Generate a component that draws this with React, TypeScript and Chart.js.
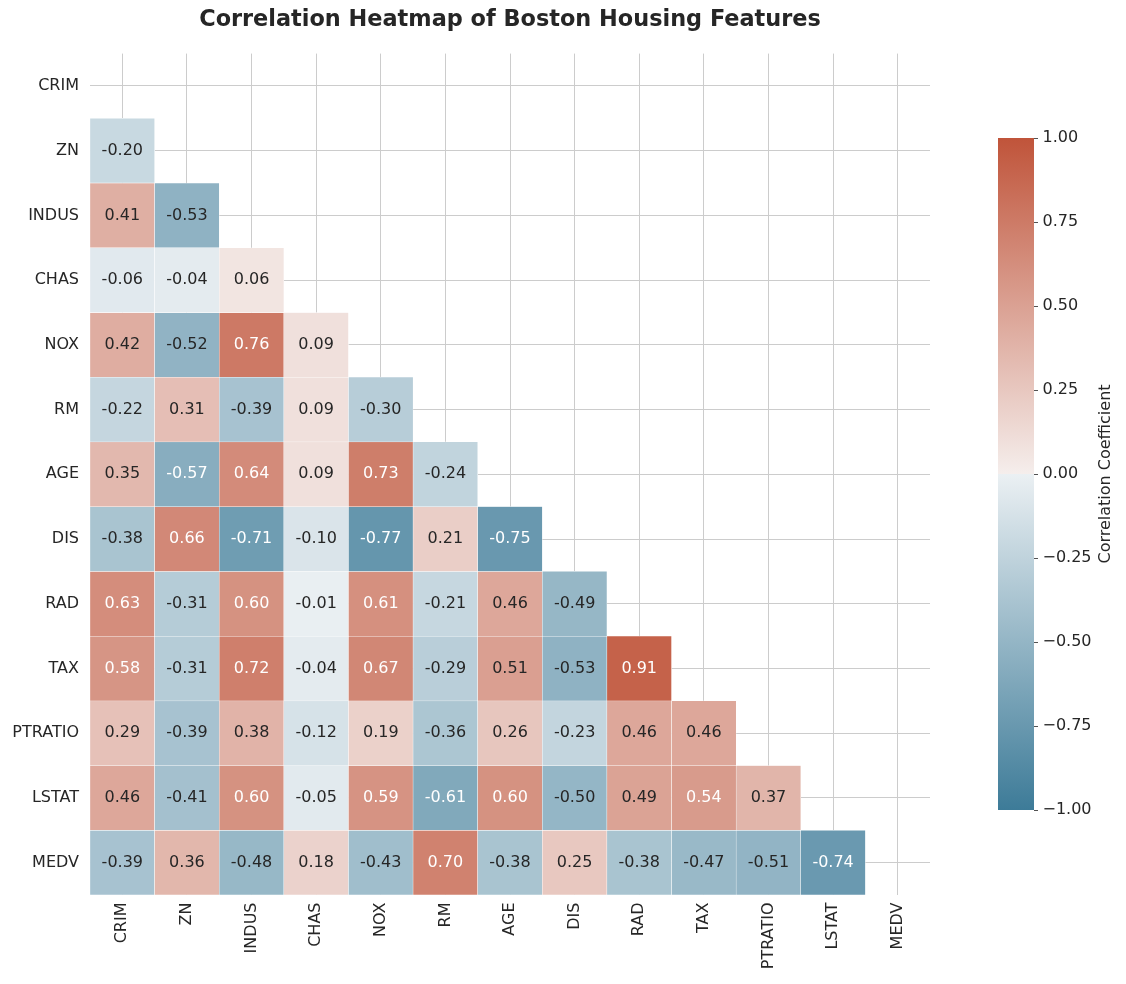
import React, { useEffect, useRef } from "react";
import { Chart, registerables } from "chart.js";

Chart.register(...registerables);

// ---------- data ----------
const features = ["CRIM", "ZN", "INDUS", "CHAS", "NOX", "RM", "AGE", "DIS", "RAD", "TAX", "PTRATIO", "LSTAT", "MEDV"];

const corrCRIM: number[] = [];
const corrZN = [-0.20];
const corrINDUS = [0.41, -0.53];
const corrCHAS = [-0.06, -0.04, 0.06];
const corrNOX = [0.42, -0.52, 0.76, 0.09];
const corrRM = [-0.22, 0.31, -0.39, 0.09, -0.30];
const corrAGE = [0.35, -0.57, 0.64, 0.09, 0.73, -0.24];
const corrDIS = [-0.38, 0.66, -0.71, -0.10, -0.77, 0.21, -0.75];
const corrRAD = [0.63, -0.31, 0.60, -0.01, 0.61, -0.21, 0.46, -0.49];
const corrTAX = [0.58, -0.31, 0.72, -0.04, 0.67, -0.29, 0.51, -0.53, 0.91];
const corrPTRATIO = [0.29, -0.39, 0.38, -0.12, 0.19, -0.36, 0.26, -0.23, 0.46, 0.46];
const corrLSTAT = [0.46, -0.41, 0.60, -0.05, 0.59, -0.61, 0.60, -0.50, 0.49, 0.54, 0.37];
const corrMEDV = [-0.39, 0.36, -0.48, 0.18, -0.43, 0.70, -0.38, 0.25, -0.38, -0.47, -0.51, -0.74];

const lowerRows = [corrCRIM, corrZN, corrINDUS, corrCHAS, corrNOX, corrRM, corrAGE, corrDIS, corrRAD, corrTAX, corrPTRATIO, corrLSTAT, corrMEDV];

const colorbarTicks = [1.0, 0.75, 0.5, 0.25, 0.0, -0.25, -0.5, -0.75, -1.0];

const TITLE = "Correlation Heatmap of Boston Housing Features";
const CB_LABEL = "Correlation Coefficient";

// ---------- style ----------
const FONT = '"DejaVu Sans", "Liberation Sans", sans-serif';
const TEXT_DARK = "#262626";
const LOW = [61, 123, 152];
const LOW_LIGHT = [235, 240, 243];
const MID = [242, 242, 242];
const HIGH_LIGHT = [245, 238, 236];
const HIGH = [192, 84, 58];

function mix(a: number[], b: number[], t: number) {
  return a.map((v, i) => v + (b[i] - v) * t);
}
function rgbStr(c: number[]) {
  return `rgb(${Math.round(c[0])},${Math.round(c[1])},${Math.round(c[2])})`;
}
function cmapRGB(v: number) {
  if (v < 0) return mix(LOW_LIGHT, LOW, Math.min(1, -v));
  if (v > 0) return mix(HIGH_LIGHT, HIGH, Math.min(1, v));
  return MID;
}
function lin(c: number) {
  const s = c / 255;
  return s <= 0.03928 ? s / 12.92 : Math.pow((s + 0.055) / 1.055, 2.4);
}
function textColor(v: number) {
  const c = cmapRGB(v);
  const lum = 0.2126 * lin(c[0]) + 0.7152 * lin(c[1]) + 0.0722 * lin(c[2]);
  return lum > 0.408 ? TEXT_DARK : "#ffffff";
}

const annotPlugin = {
  id: "annot",
  afterDatasetsDraw(chart: any) {
    const ctx = chart.ctx;
    ctx.save();
    ctx.font = `16px ${FONT}`;
    ctx.textAlign = "center";
    ctx.textBaseline = "middle";
    chart.data.datasets.forEach((ds: any, di: number) => {
      const meta = chart.getDatasetMeta(di);
      const vals = lowerRows[di];
      meta.data.forEach((el: any, i: number) => {
        if (i >= vals.length) return;
        const v = vals[i];
        const p = el.getProps(["x", "y", "base"], true);
        ctx.fillStyle = textColor(v);
        ctx.fillText(v.toFixed(2), p.x, (p.y + p.base) / 2);
      });
    });
    ctx.restore();
  },
};

const cbLabelPlugin = {
  id: "cbLabel",
  afterDraw(chart: any) {
    const ctx = chart.ctx;
    const area = chart.chartArea;
    ctx.save();
    ctx.font = `16px ${FONT}`;
    ctx.fillStyle = TEXT_DARK;
    ctx.textAlign = "center";
    ctx.textBaseline = "middle";
    ctx.translate(146, (area.top + area.bottom) / 2);
    ctx.rotate(-Math.PI / 2);
    ctx.fillText(CB_LABEL, 0, 0);
    ctx.restore();
  },
};

export default function App() {
  const mainRef = useRef<HTMLCanvasElement>(null);
  const cbRef = useRef<HTMLCanvasElement>(null);

  useEffect(() => {
    const datasets = lowerRows.map((vals, r) => ({
      label: features[r],
      data: features.map((_, c) => (c < vals.length ? [r - 0.5, r + 0.5] : null)),
      backgroundColor: features.map((_, c) => (c < vals.length ? rgbStr(cmapRGB(vals[c])) : "rgba(0,0,0,0)")),
      borderColor: "#ffffff",
      borderWidth: 0.5,
      borderSkipped: false,
      barPercentage: 1,
      categoryPercentage: 1,
      grouped: false,
    }));

    const main = new Chart(mainRef.current as HTMLCanvasElement, {
      type: "bar",
      data: { labels: features, datasets: datasets as any },
      options: {
        responsive: false,
        animation: false,
        events: [],
        devicePixelRatio: 1,
        layout: { padding: { left: 0, right: 90, top: 0, bottom: 0 } },
        plugins: {
          legend: { display: false },
          tooltip: { enabled: false },
          title: {
            display: true,
            fullSize: false,
            text: TITLE,
            color: TEXT_DARK,
            font: { family: FONT, size: 22.4, weight: "bold" },
            padding: { top: 6.5, bottom: 20.2 },
          },
        },
        scales: {
          x: {
            type: "category",
            offset: true,
            grid: { offset: false, color: "#cccccc", lineWidth: 1, drawTicks: false },
            border: { display: false },
            ticks: {
              color: TEXT_DARK,
              font: { family: FONT, size: 16 },
              maxRotation: 90,
              minRotation: 90,
              autoSkip: false,
              padding: 7.5,
            },
            afterFit: (s: any) => {
              s.height = 89;
            },
          },
          y: {
            type: "linear",
            reverse: true,
            min: -0.5,
            max: 12.5,
            grid: { color: "#cccccc", lineWidth: 1, drawTicks: false },
            border: { display: false },
            afterBuildTicks: (s: any) => {
              s.ticks = features.map((_, i) => ({ value: i }));
            },
            ticks: {
              color: TEXT_DARK,
              font: { family: FONT, size: 16 },
              autoSkip: false,
              padding: 11,
              callback: (v: any) => features[Math.round(Number(v))] ?? "",
            },
            afterFit: (s: any) => {
              s.width = 90;
            },
          },
        },
      },
      plugins: [annotPlugin],
    });

    const cb = new Chart(cbRef.current as HTMLCanvasElement, {
      type: "bar",
      data: {
        labels: ["cb"],
        datasets: [
          {
            data: [[-1, 1]] as any,
            backgroundColor: (ctx: any) => {
              const area = ctx.chart.chartArea;
              if (!area) return rgbStr(MID);
              const g = ctx.chart.ctx.createLinearGradient(0, area.top, 0, area.bottom);
              g.addColorStop(0, rgbStr(HIGH));
              g.addColorStop(0.4999, rgbStr(HIGH_LIGHT));
              g.addColorStop(0.5, rgbStr(MID));
              g.addColorStop(0.5001, rgbStr(LOW_LIGHT));
              g.addColorStop(1, rgbStr(LOW));
              return g;
            },
            borderWidth: 0,
            barPercentage: 1,
            categoryPercentage: 1,
          },
        ],
      },
      options: {
        responsive: false,
        animation: false,
        events: [],
        devicePixelRatio: 1,
        layout: { padding: { left: 38, right: 0, top: 138, bottom: 174 } },
        plugins: { legend: { display: false }, tooltip: { enabled: false }, title: { display: false } },
        scales: {
          x: { display: false, offset: true },
          y: {
            type: "linear",
            position: "right",
            min: -1,
            max: 1,
            grid: { drawOnChartArea: false, drawTicks: true, tickLength: 4, color: TEXT_DARK, lineWidth: 0.8 },
            border: { display: false },
            afterBuildTicks: (s: any) => {
              s.ticks = colorbarTicks.map((v) => ({ value: v }));
            },
            ticks: {
              color: TEXT_DARK,
              font: { family: FONT, size: 16 },
              padding: 4.5,
              callback: (v: any) => {
                const n = Number(v);
                const s = Math.abs(n).toFixed(2);
                return n < 0 ? "\u2212" + s : s;
              },
            },
            afterFit: (s: any) => {
              s.width = 92;
            },
          },
        },
      },
      plugins: [cbLabelPlugin],
    });

    return () => {
      main.destroy();
      cb.destroy();
    };
  }, []);

  return (
    <div style={{ position: "absolute", left: 0, top: 0, width: 1126, height: 984, background: "#ffffff" }}>
      <canvas ref={mainRef} width={1020} height={984} style={{ position: "absolute", left: 0, top: 0, width: 1020, height: 984 }} />
      <canvas ref={cbRef} width={166} height={984} style={{ position: "absolute", left: 960, top: 0, width: 166, height: 984 }} />
    </div>
  );
}
